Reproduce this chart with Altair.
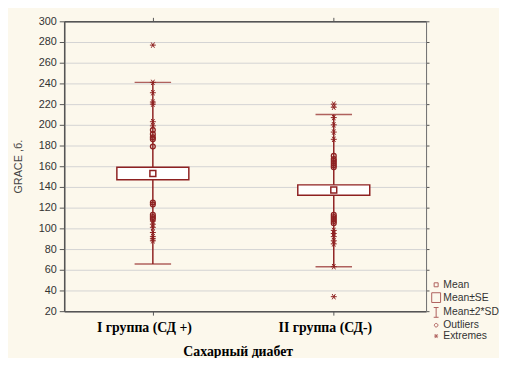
import altair as alt
import pandas as pd

# ---- data ----
groups = ["I группа (СД +)", "II группа (СД-)"]
means = [153, 137]
se_low = [147, 132]
se_high = [159, 142]
sd_low = [65.5, 63]
sd_high = [241, 210]

g1_outliers = [195, 191, 188, 186, 179, 125, 123, 113, 111, 109]
g1_extremes = [277, 241, 231, 222, 220, 203, 199, 107, 104, 101, 96, 92, 90, 88]
g2_outliers = [170, 167, 165, 163, 161, 159, 113, 111, 109, 107, 105]
g2_extremes = [220, 217, 207, 200, 193, 186, 98, 95, 92, 88, 85, 63, 34]

legend_items = ["Mean", "Mean±SE", "Mean±2*SD", "Outliers", "Extremes"]
y_ticks = list(range(20, 301, 20))

# ---- tables ----
summary = pd.DataFrame({"group": groups, "mean": means, "se_low": se_low,
                        "se_high": se_high, "sd_low": sd_low, "sd_high": sd_high})
outliers = pd.DataFrame({"group": [groups[0]] * len(g1_outliers) + [groups[1]] * len(g2_outliers),
                         "value": g1_outliers + g2_outliers})
extremes = pd.DataFrame({"group": [groups[0]] * len(g1_extremes) + [groups[1]] * len(g2_extremes),
                         "value": g1_extremes + g2_extremes})
legend_df = pd.DataFrame({"item": legend_items})

RED = "#8E2121"
ASTERISK = "M-1,0H1M-0.55,-0.9L0.55,0.9M-0.55,0.9L0.55,-0.9"
legend_paths = [
    "M-0.45,-0.45H0.45V0.45H-0.45Z",
    "M-1,-1.1H1V1.1H-1Z",
    "M-0.55,-1.1H0.55M0,-1.1V1.1M-0.55,1.1H0.55",
    "M0.4,0A0.4,0.4,0,1,1,-0.4,0A0.4,0.4,0,1,1,0.4,0",
    "M-0.45,0H0.45M-0.28,-0.45L0.28,0.45M-0.28,0.45L0.28,-0.45",
]

xscale = alt.Scale(domain=groups, type="point", padding=0.5, align=0.49)
yscale = alt.Scale(domain=[20, 300], nice=False, zero=False)

bottom_axis = alt.Axis(title="Сахарный диабет", labelAngle=0, labelFont="Liberation Serif",
                       labelFontSize=14, labelFontWeight="bold", labelColor="#000000",
                       labelPadding=6, labelOffset=-9, tickSize=4, tickColor="#555555",
                       domainColor="#555555", domainWidth=1.5,
                       titleFont="Liberation Serif", titleFontSize=14, titleFontWeight="bold",
                       titleColor="#000000", titlePadding=10, titleX=176, titleAlign="center")
top_axis = alt.Axis(orient="top", title=None, labels=False, tickSize=4, tickColor="#555555",
                    domainColor="#555555", domainWidth=1.5)
left_axis = alt.Axis(values=y_ticks, grid=True, gridColor="#d3d3d3", gridWidth=1,
                     tickSize=5, tickColor="#555555", domainColor="#555555", domainWidth=1.5,
                     labelFont="Liberation Sans", labelFontSize=11, labelColor="#333333",
                     labelPadding=3, title="GRACE ,б.", titleFont="Liberation Sans",
                     titleFontSize=11, titleFontWeight="normal", titleColor="#444444",
                     titlePadding=15)
right_axis = alt.Axis(orient="right", values=y_ticks, grid=False, labels=False, title=None,
                      tickSize=3, tickColor="#555555", domainColor="#777777", domainWidth=1)

whisker = alt.Chart(summary).mark_rule(color=RED, strokeWidth=1.5).encode(
    x=alt.X("group:N", scale=xscale, axis=bottom_axis),
    y=alt.Y("sd_low:Q", scale=yscale, axis=left_axis),
    y2="sd_high:Q",
)
cap_hi = alt.Chart(summary).mark_tick(color=RED, thickness=1.5, size=37).encode(
    x=alt.X("group:N", scale=xscale, axis=top_axis),
    y=alt.Y("sd_high:Q", scale=yscale, axis=right_axis),
)
cap_lo = alt.Chart(summary).mark_tick(color=RED, thickness=1.5, size=37).encode(
    x=alt.X("group:N", scale=xscale, axis=None),
    y=alt.Y("sd_low:Q", scale=yscale, axis=None),
)
box = alt.Chart(summary).mark_bar(width=73, fill="white", stroke=RED, strokeWidth=1.5).encode(
    x=alt.X("group:N", scale=xscale, axis=None),
    y=alt.Y("se_low:Q", scale=yscale, axis=None),
    y2="se_high:Q",
)
mean_pt = alt.Chart(summary).mark_point(shape="square", size=36, filled=False, color=RED,
                                        strokeWidth=1.5, opacity=1).encode(
    x=alt.X("group:N", scale=xscale, axis=None),
    y=alt.Y("mean:Q", scale=yscale, axis=None),
)
out_pts = alt.Chart(outliers).mark_point(shape="circle", size=24, filled=False, color=RED,
                                         strokeWidth=1.3, opacity=1).encode(
    x=alt.X("group:N", scale=xscale, axis=None),
    y=alt.Y("value:Q", scale=yscale, axis=None),
)
ext_pts = alt.Chart(extremes).mark_point(shape=ASTERISK, size=36, filled=False, color=RED,
                                         strokeWidth=1, opacity=1).encode(
    x=alt.X("group:N", scale=xscale, axis=None),
    y=alt.Y("value:Q", scale=yscale, axis=None),
)
legend_layer = alt.Chart(legend_df).mark_point(filled=False, size=0, color=RED).encode(
    shape=alt.Shape("item:N", scale=alt.Scale(domain=legend_items, range=legend_paths),
                    legend=alt.Legend(title=None, orient="none", legendX=372, legendY=262,
                                      symbolSize=81, symbolStrokeColor=RED,
                                      symbolStrokeWidth=1, symbolFillColor="transparent",
                                      labelFont="Liberation Sans", labelFontSize=10.5,
                                      labelColor="#333333", rowPadding=0, labelOffset=2,
                                      padding=0, labelLimit=200)),
)

chart = alt.layer(whisker, cap_hi, cap_lo, box, mean_pt, out_pts, ext_pts, legend_layer).resolve_axis(
    x="independent", y="independent"
).properties(
    width=367, height=294,
    autosize=alt.AutoSizeParams(type="none"),
    padding={"left": 57, "top": 11, "right": 74, "bottom": 45},
    background="#fcf8ec",
).configure_view(fill="white", stroke="#707070", strokeWidth=1)

chart.save("out.html", embed_options={"renderer": "svg", "actions": False})
